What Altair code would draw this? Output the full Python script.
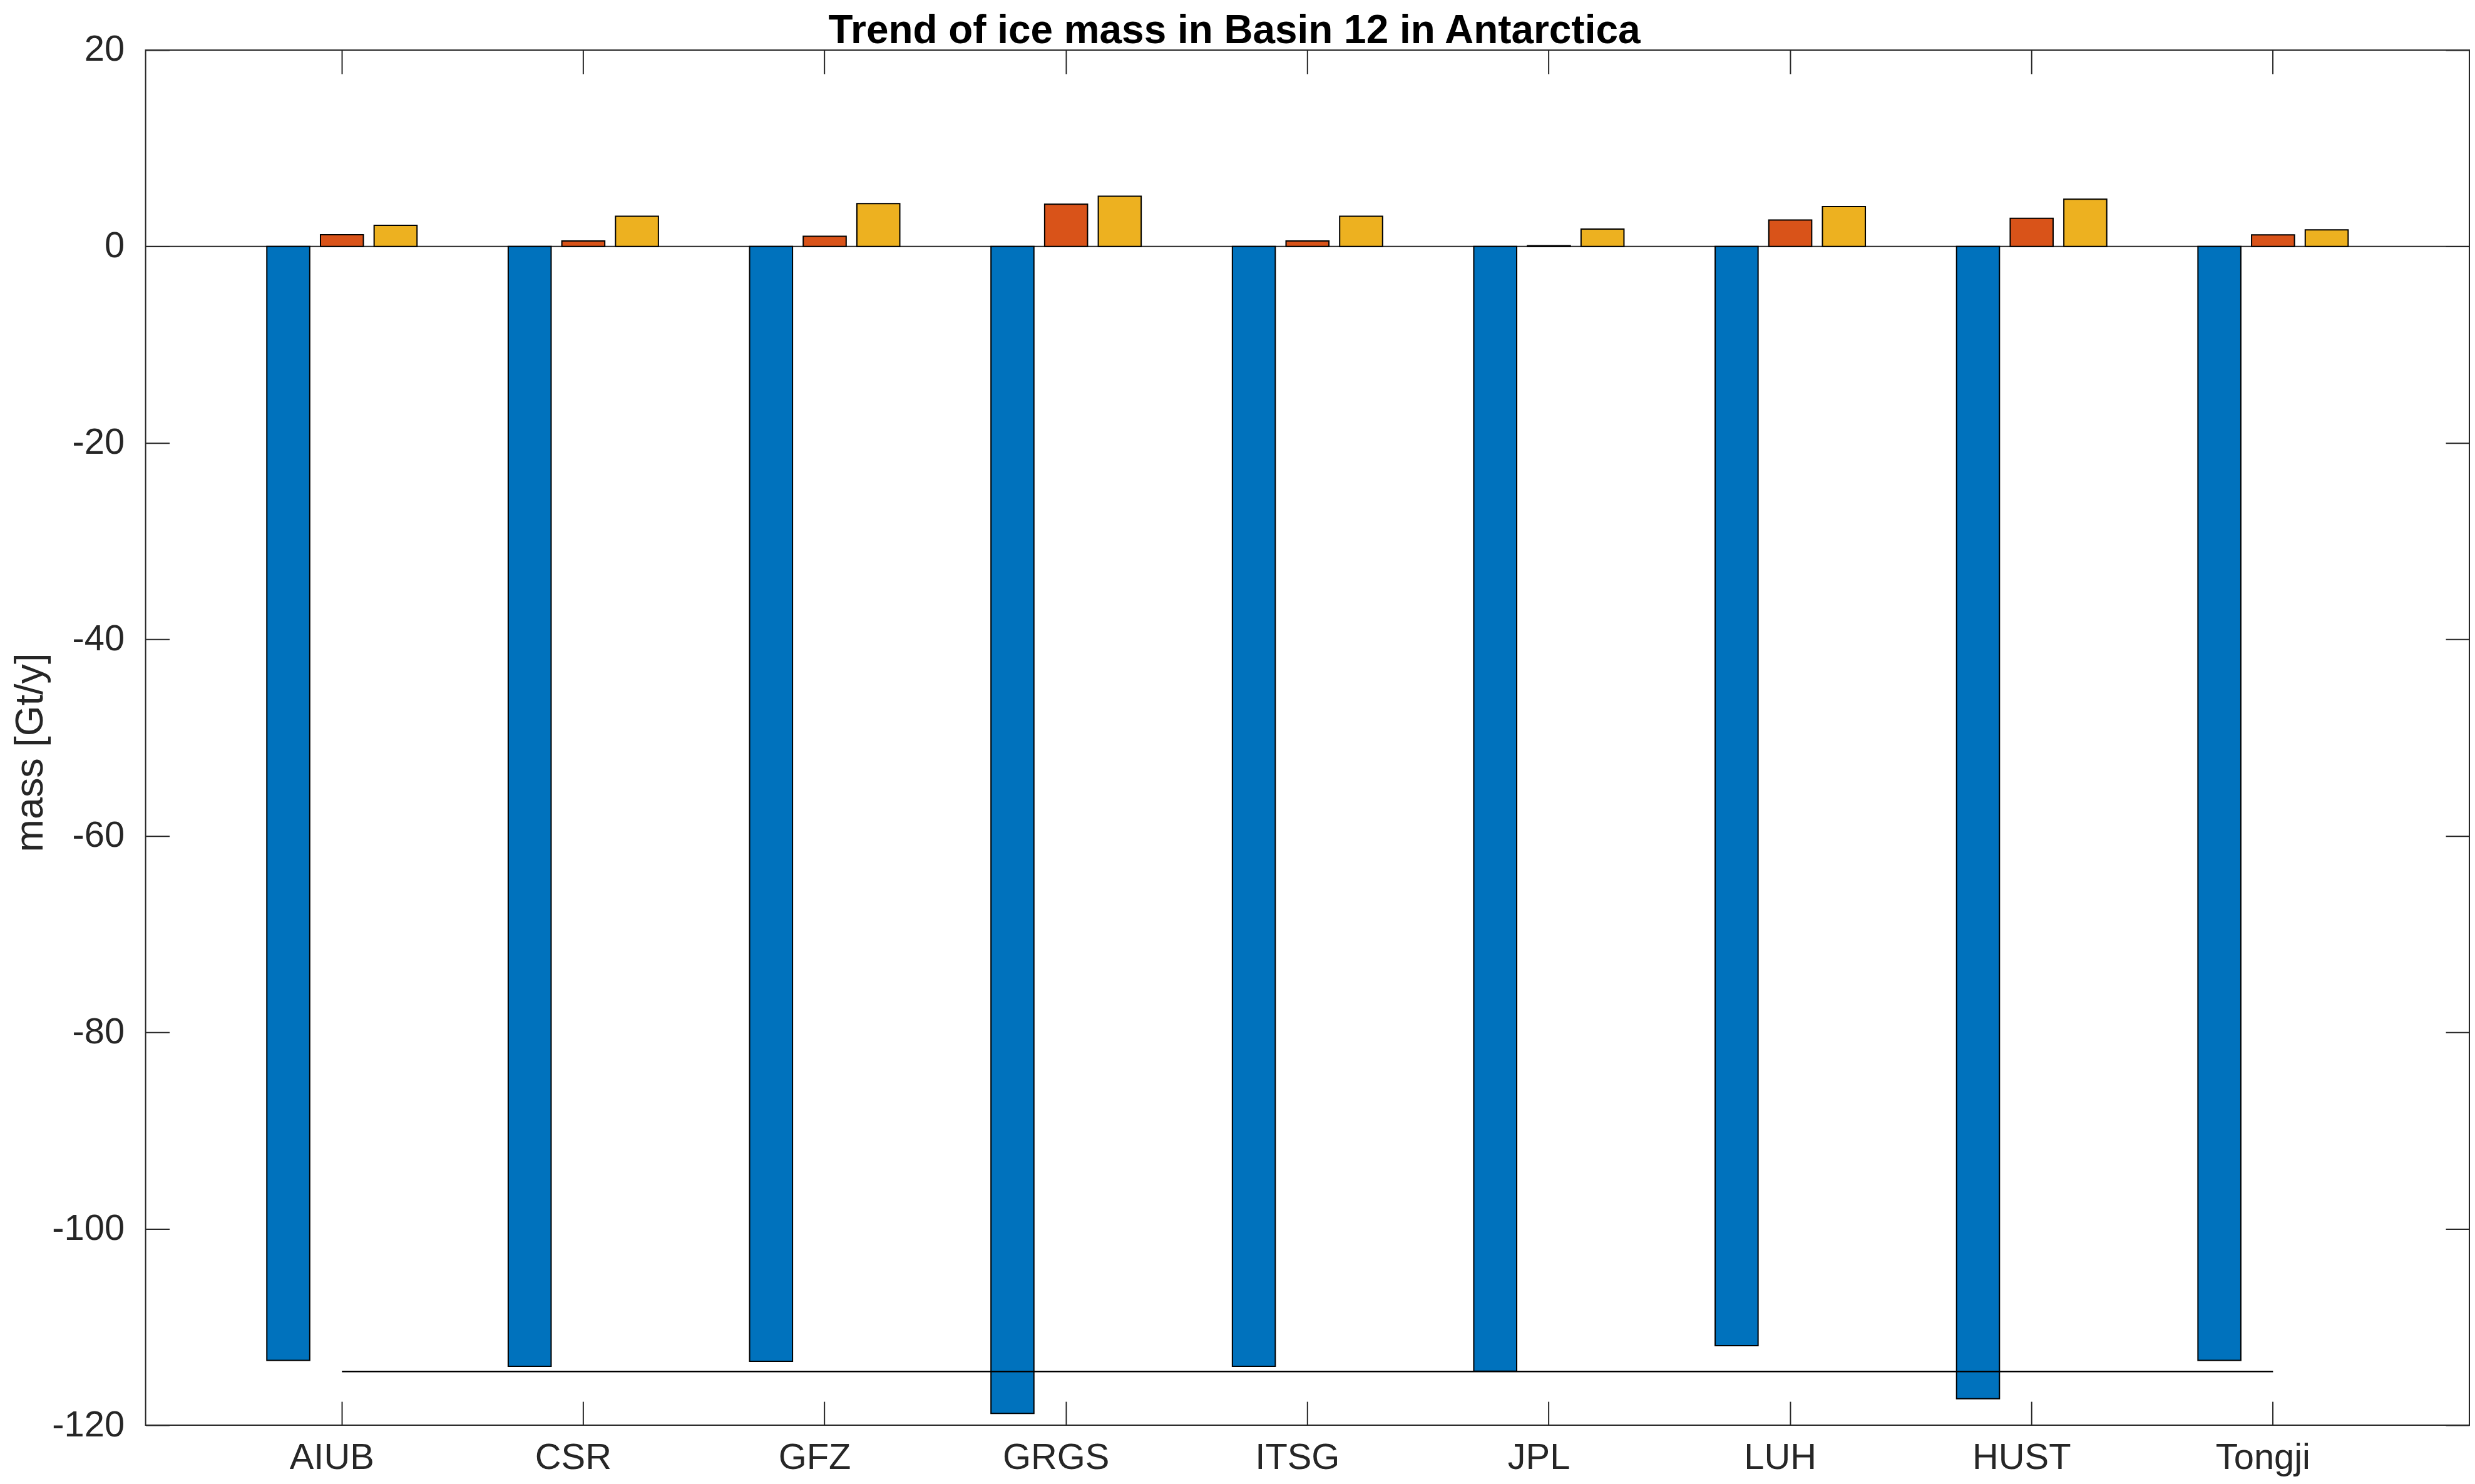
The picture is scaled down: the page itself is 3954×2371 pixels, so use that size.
import altair as alt
import pandas as pd

# ---------------- data ----------------
categories = ["AIUB", "CSR", "GFZ", "GRGS", "ITSG", "JPL", "LUH", "HUST", "Tongji"]
series_names = ["Series 1", "Series 2", "Series 3"]
series_1 = [-113.4, -114.0, -113.5, -118.8, -114.0, -114.5, -111.9, -117.3, -113.4]
series_2 = [1.20, 0.57, 1.04, 4.31, 0.57, 0.08, 2.70, 2.87, 1.19]
series_3 = [2.15, 3.08, 4.37, 5.12, 3.08, 1.78, 4.06, 4.82, 1.70]
series_colors = ["#0072BD", "#D95319", "#EDB120"]
y_ticks = [-120, -100, -80, -60, -40, -20, 0, 20]
zero_level = [0]
chart_title = ["Trend of ice mass in Basin 12 in Antarctica"]

rows = []
for s, vals in zip(series_names, [series_1, series_2, series_3]):
    for c, v in zip(categories, vals):
        rows.append({"center": c, "series": s, "value": v})
df = pd.DataFrame(rows)

# ---------------- style ----------------
FONT = "Liberation Sans"
TXT = "#262626"
TICK = 38
W, H = 3719, 2201

x_scale = alt.Scale(domain=categories, paddingInner=1 / 3, paddingOuter=0.48)
y_scale = alt.Scale(domain=[-120, 20], nice=False, zero=False)

baseline = alt.Chart(pd.DataFrame({"zero": zero_level})).mark_rule(
    color=TXT, strokeWidth=2
).encode(y=alt.Y("zero:Q", scale=y_scale, axis=None))

bars = alt.Chart(df).mark_bar(stroke="black", strokeWidth=2, opacity=1).encode(
    x=alt.X(
        "center:N",
        sort=categories,
        scale=x_scale,
        axis=alt.Axis(
            orient="bottom", offset=-TICK, tickSize=TICK, domain=False,
            labelPadding=24, labelFont=FONT, labelFontSize=58, labelColor=TXT,
            tickColor=TXT, tickWidth=2, labelAngle=0, title=None,
            labelOffset=-16, bandPosition=0.5, grid=False,
        ),
    ),
    xOffset=alt.XOffset(
        "series:N", sort=series_names,
        scale=alt.Scale(paddingInner=0.2, paddingOuter=0.1),
    ),
    y=alt.Y(
        "value:Q",
        scale=y_scale,
        axis=alt.Axis(
            orient="left", values=y_ticks, offset=-TICK, tickSize=TICK,
            domain=False, labelPadding=34, labelFont=FONT, labelFontSize=58,
            labelColor=TXT, tickColor=TXT, tickWidth=2, grid=False,
            labelExpr="'' + datum.value",
            title="mass [Gt/y]", titleFont=FONT, titleFontSize=63,
            titleFontWeight="normal", titleColor=TXT, titleAngle=270,
            titleX=-203, titleY=1124, titleAlign="center",
            titleBaseline="alphabetic",
        ),
    ),
    color=alt.Color(
        "series:N",
        scale=alt.Scale(domain=series_names, range=series_colors),
        legend=None,
    ),
)

mean_line = (
    alt.Chart(df)
    .transform_filter(alt.datum.series == series_names[0])
    .transform_joinaggregate(mean_value="mean(value)")
    .mark_line(color="black", strokeWidth=2.5)
    .encode(
        x=alt.X(
            "center:N",
            sort=categories,
            scale=x_scale,
            axis=alt.Axis(
                orient="top", offset=-TICK, tickSize=TICK, domain=False,
                labels=False, title=None, tickColor=TXT, tickWidth=2,
                bandPosition=0.5, grid=False,
            ),
        ),
        y=alt.Y(
            "mean_value:Q",
            scale=y_scale,
            axis=alt.Axis(
                orient="right", values=y_ticks, offset=-TICK, tickSize=TICK,
                domain=False, labels=False, title=None, tickColor=TXT,
                tickWidth=2, grid=False,
            ),
        ),
    )
)

title_text = alt.Chart(pd.DataFrame({"t": chart_title})).mark_text(
    font=FONT, fontSize=64, fontWeight="bold", color="black",
    align="center", baseline="alphabetic",
).encode(text="t:N", x=alt.value(W / 2 - 117), y=alt.value(-11))

chart = (
    alt.layer(baseline, bars, mean_line, title_text)
    .resolve_axis(x="independent", y="independent")
    .properties(
        width=W,
        height=H,
        autosize=alt.AutoSizeParams(type="none"),
        padding={"left": 225, "top": 70, "right": 1, "bottom": 82},
        background="white",
    )
    .configure_view(stroke=TXT, strokeWidth=2)
)

chart.save("out.html", embed_options={"renderer": "svg", "actions": False})
